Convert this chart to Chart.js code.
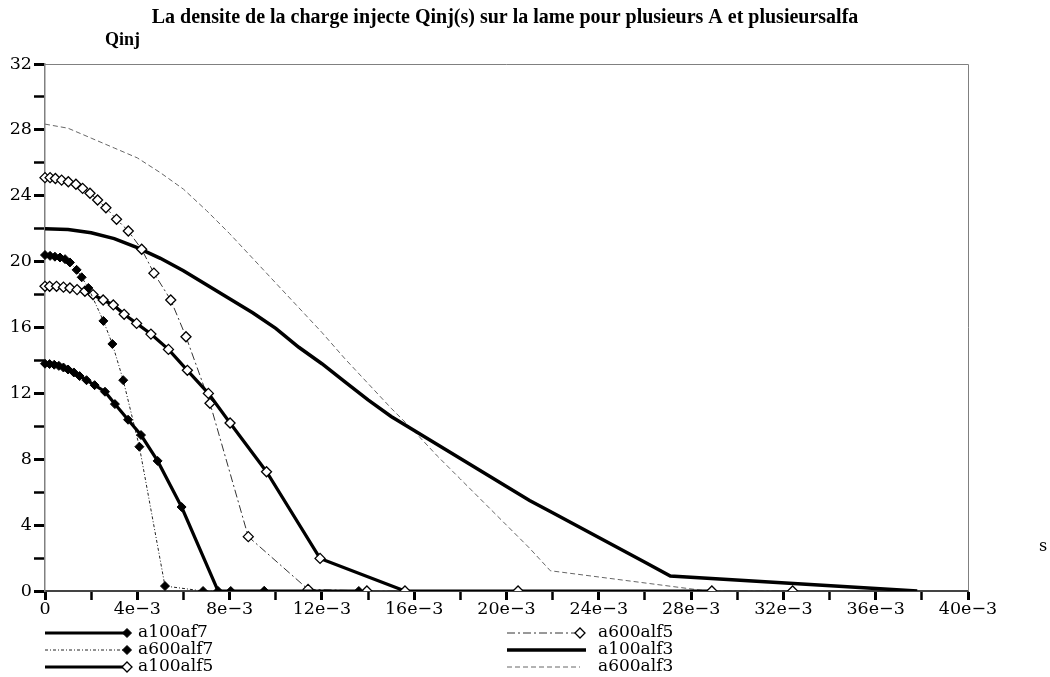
<!DOCTYPE html>
<html>
<head>
<meta charset="utf-8">
<script src="https://cdn.jsdelivr.net/npm/chart.js@4.4.0/dist/chart.umd.min.js"></script>
<style>
html,body{margin:0;padding:0;background:#fff;}
#wrap{width:1050px;height:677px;position:relative;}
</style>
</head>
<body>
<div id="wrap"><canvas id="c" width="1050" height="677"></canvas></div>
<script>
// ---- data (s in units of 1e-3 converted below) ----
const titleText = "La densite de la charge injecte Qinj(s) sur la lame pour plusieurs A et plusieursalfa";
const yAxisLabel = "Qinj";
const xAxisLabel = "s";
const xTickLabels = ["0","4e\u22123","8e\u22123","12e\u22123","16e\u22123","20e\u22123","24e\u22123","28e\u22123","32e\u22123","36e\u22123","40e\u22123"];
const yTickLabels = ["0","4","8","12","16","20","24","28","32"];

const a100af7_s = [0,0.2,0.4,0.6,0.8,1.0,1.25,1.5,1.8,2.15,2.6,3.03,3.6,4.16,4.88,5.92,7.5,8.05,9.5,13.6];
const a100af7_q = [13.8,13.78,13.74,13.67,13.57,13.45,13.27,13.05,12.8,12.5,12.1,11.35,10.4,9.47,7.9,5.1,0,0,0,0];

const a600alf7_s = [0,0.22,0.43,0.65,0.87,1.08,1.37,1.59,1.88,2.53,2.92,3.39,4.09,5.2,6.85,9.5];
const a600alf7_q = [20.4,20.35,20.3,20.25,20.15,19.95,19.5,19.05,18.4,16.4,15.0,12.8,8.76,0.3,0,0];

const a100alf5_s = [0,0.2,0.5,0.8,1.08,1.39,1.73,2.08,2.52,2.96,3.43,3.97,4.59,5.35,6.17,7.08,8.02,9.6,11.92,15.6,20.5,28.9];
const a100alf5_q = [18.5,18.5,18.5,18.45,18.4,18.3,18.2,18.0,17.67,17.37,16.8,16.25,15.6,14.67,13.4,12.0,10.2,7.24,1.98,0,0,0];

const a600alf5_s = [0,0.22,0.45,0.72,1.01,1.34,1.63,1.95,2.28,2.64,3.1,3.61,4.19,4.72,5.45,6.11,7.15,8.81,11.4,13.95,32.4];
const a600alf5_q = [25.1,25.1,25.05,24.95,24.85,24.7,24.45,24.15,23.74,23.27,22.57,21.86,20.75,19.3,17.67,15.44,11.4,3.3,0.1,0,0];

const a100alf3_s = [0,1,2,3,4,5,6,7,8,9,10,11,12,13,14,15,16,17,18,19,20,21,22,24,26,27.1,37.8];
const a100alf3_q = [22.0,21.95,21.75,21.4,20.85,20.2,19.45,18.6,17.75,16.9,15.95,14.8,13.8,12.7,11.6,10.6,9.75,8.9,8.05,7.2,6.35,5.5,4.75,3.25,1.75,0.91,0];

const a600alf3_s = [0,1,2,3,4,5,6,7,8,9,10,11,12,13,14,15,16,17,18,19,20,21,21.9,28.7];
const a600alf3_q = [28.35,28.1,27.5,26.9,26.3,25.4,24.4,23.1,21.7,20.2,18.7,17.2,15.7,14.1,12.6,11.1,9.7,8.2,6.8,5.4,4.0,2.6,1.23,0];

function pts(s, q){ return s.map((v,i)=>({x:v*1e-3, y:q[i]})); }

const serif = "'Liberation Serif', serif";
const dserif = "'DejaVu Serif', serif";

const datasets = [
  {label:"a100af7", data:pts(a100af7_s,a100af7_q), borderColor:"#000", borderWidth:3.2, borderDash:[],
   pointStyle:"rectRot", pointRadius:4.5, pointBackgroundColor:"#000", pointBorderColor:"#000", pointBorderWidth:1, legendCol:0, legendRow:0},
  {label:"a600alf7", data:pts(a600alf7_s,a600alf7_q), borderColor:"#222", borderWidth:1, borderDash:[3,2,1,2],
   pointStyle:"rectRot", pointRadius:4.5, pointBackgroundColor:"#000", pointBorderColor:"#000", pointBorderWidth:1, legendCol:0, legendRow:1},
  {label:"a100alf5", data:pts(a100alf5_s,a100alf5_q), borderColor:"#000", borderWidth:3.2, borderDash:[],
   pointStyle:"rectRot", pointRadius:5, pointBackgroundColor:"#fff", pointBorderColor:"#000", pointBorderWidth:1.3, legendCol:0, legendRow:2},
  {label:"a600alf5", data:pts(a600alf5_s,a600alf5_q), borderColor:"#333", borderWidth:1, borderDash:[8,3,2,3],
   pointStyle:"rectRot", pointRadius:5, pointBackgroundColor:"#fff", pointBorderColor:"#000", pointBorderWidth:1.3, legendCol:1, legendRow:0},
  {label:"a100alf3", data:pts(a100alf3_s,a100alf3_q), borderColor:"#000", borderWidth:3.5, borderDash:[],
   pointRadius:0, legendCol:1, legendRow:1},
  {label:"a600alf3", data:pts(a600alf3_s,a600alf3_q), borderColor:"#666", borderWidth:1, borderDash:[5,3],
   pointRadius:0, legendCol:1, legendRow:2}
];
datasets.forEach(d=>{ d.fill=false; d.tension=0; d.clip={left:6,right:6,top:6,bottom:0}; d.pointHoverRadius=d.pointRadius; });

const extras = {
  id:"extras",
  beforeDatasetsDraw(chart){
    const ctx=chart.ctx, a=chart.chartArea;
    ctx.save();
    ctx.strokeStyle="#808080"; ctx.lineWidth=1;
    ctx.beginPath();
    ctx.moveTo(a.left, a.top+0.5); ctx.lineTo(a.right+0.5, a.top+0.5); ctx.lineTo(a.right+0.5, a.bottom);
    ctx.stroke();
    ctx.restore();
  },
  afterDraw(chart){
    const ctx=chart.ctx, a=chart.chartArea;
    ctx.save();
    ctx.fillStyle="#000";
    ctx.font="bold 20px "+serif;
    ctx.textAlign="center"; ctx.textBaseline="middle";
    ctx.fillText(titleText, 505, 18);
    ctx.textAlign="left";
    ctx.font="bold 18px "+serif;
    ctx.fillText(yAxisLabel, 105, 40);
    ctx.font="16px "+dserif;
    ctx.fillText(xAxisLabel, 1039, 547);
    // legend
    const rowY=[633,650,667];
    ctx.font="17px "+dserif;
    chart.data.datasets.forEach(ds=>{
      const y=rowY[ds.legendRow];
      let x0, lineEnd, tx;
      if(ds.legendCol===0){ x0=45; lineEnd=127; tx=138; }
      else { x0=507; lineEnd = ds.pointRadius>0 ? 580 : (ds.borderWidth>2 ? 586 : 580); tx=598; }
      ctx.save();
      ctx.strokeStyle=ds.borderColor; ctx.lineWidth=ds.borderWidth; ctx.setLineDash(ds.borderDash||[]);
      ctx.beginPath(); ctx.moveTo(x0,y); ctx.lineTo(lineEnd,y); ctx.stroke();
      ctx.restore();
      if(ds.pointRadius>0){
        ctx.save();
        ctx.fillStyle=ds.pointBackgroundColor; ctx.strokeStyle=ds.pointBorderColor; ctx.lineWidth=ds.pointBorderWidth;
        Chart.helpers.drawPoint(ctx,{pointStyle:ds.pointStyle, radius:ds.pointRadius, borderWidth:ds.pointBorderWidth, rotation:0}, lineEnd, y);
        ctx.restore();
      }
      ctx.fillStyle="#000"; ctx.textAlign="left"; ctx.textBaseline="middle";
      ctx.fillText(ds.label, tx, y);
    });
    ctx.restore();
  }
};

new Chart(document.getElementById("c"), {
  type:"line",
  data:{datasets},
  plugins:[extras],
  options:{
    responsive:false, animation:false, maintainAspectRatio:false,
    layout:{padding:{left:0,right:82,top:64,bottom:0}},
    plugins:{legend:{display:false}, title:{display:false}, tooltip:{enabled:false}},
    scales:{
      x:{type:"linear", min:0, max:0.04,
        afterFit(s){ s.height=86; },
        afterBuildTicks(s){ s.ticks = Array.from({length:21},(_,i)=>({value:i*0.002})); },
        border:{display:true, color:"#444", width:2},
        grid:{drawOnChartArea:false, drawTicks:true, tickLength:9, tickColor:"#000",
              tickWidth:(c)=> (c.index%2===0?3:2.5)},
        ticks:{autoSkip:false, maxRotation:0, padding:-1, color:"#000", font:{family:dserif, size:17.5},
               callback:(v,i)=> i%2===0 ? xTickLabels[i/2] : ""}
      },
      y:{type:"linear", min:0, max:32,
        afterFit(s){ s.width=45; },
        afterBuildTicks(s){ s.ticks = Array.from({length:17},(_,i)=>({value:i*2})); },
        border:{display:true, color:"#808080", width:1.5},
        grid:{drawOnChartArea:false, drawTicks:true, tickLength:11, tickColor:"#000",
              tickWidth:(c)=> (c.index%2===0?3:2.5)},
        ticks:{autoSkip:false, padding:2, color:"#000", font:{family:dserif, size:17.5},
               callback:(v,i)=> i%2===0 ? yTickLabels[i/2] : ""}
      }
    }
  }
});
</script>
</body>
</html>
